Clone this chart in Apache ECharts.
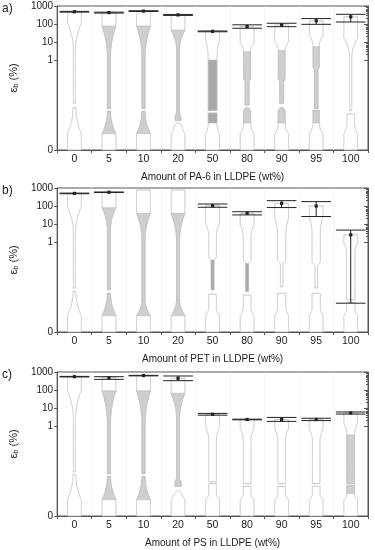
<!DOCTYPE html>
<html><head><meta charset="utf-8">
<script src="https://cdn.jsdelivr.net/npm/echarts@6/dist/echarts.min.js"></script>
<style>html,body{margin:0;padding:0;background:#fff}#c{width:375px;height:550px}</style>
</head><body><div id="c"></div>
<script>
// ---------- data ----------
const categories = ['0','5','10','20','50','80','90','95','100'];
const yTickValues = [1000, 100, 10, 1, 0];
const yTickLabels = ['1000','100','10','1','0'];
const xNames = ['Amount of PA-6 in LLDPE (wt%)','Amount of PET in LLDPE (wt%)','Amount of PS in LLDPE (wt%)'];
const panelLabels = ['a)','b)','c)'];

// elongation at break (%) : mean, lower and upper error limits
const meanA = [480, 430, 520, 320, 39, 72, 88, 150, 250];
const lowA  = [455, 405, 495, 300, 37, 58, 71, 96, 129];
const highA = [505, 455, 545, 340, 41, 90, 110, 200, 345];

const meanB = [500, 580, 780, 780, 104, 39, 140, 100, 2.5];
const lowB  = [480, 560, null, null, 85, 32, 82, 26, 0.32];
const highB = [520, 600, null, null, 129, 48, 198, 175, 4.6];

const meanC = [550, 480, 630, 450, 4.5, 2.3, 2.3, 2.3, 5.3];
const lowC  = [530, 390, 610, 330, 4.0, 2.2, 1.8, 2.0, 4.6];
const highC = [570, 550, 650, 600, 5.0, 2.4, 3.0, 2.7, 6.0];

// specimen outline levels (strain %), per category:
// [gripEnd, neckTop, neckW, narrowAt, narrowW, break, lowerTop, lowerW, lowerNeckEnd, shadeFrom, shadeLowTo, tone, dome]
const shapeA = [
  [110, 3.6, 0.15, null, null, 0.52, 0.47, 0.2, null, null, null, 1, 0],
  [77, 1.5, 0.22, null, null, 0.46, 0.43, 0.22, null, 77, 0.18, 1, 0],
  [77, 1.5, 0.22, null, null, 0.46, 0.43, 0.22, null, 77, 0.18, 1, 0],
  [46, 3.6, 0.2, 0.42, 0.4, 0.33, 0.30, 0.5, null, 46, null, 1, 1],
  [13, 1.0, 0.62, null, null, 0.44, 0.41, 0.62, 0.30, 1.0, 0.30, 2, 0],
  [8.5, 2.9, 0.48, 0.80, 0.28, 0.50, 0.47, 0.5, 0.30, 2.9, 0.30, 1, 1],
  [10.4, 3.3, 0.48, 0.80, 0.28, 0.52, 0.47, 0.5, 0.30, 3.3, 0.30, 1, 1],
  [24, 5.5, 0.45, 0.93, 0.25, 0.46, 0.44, 0.45, 0.30, 5.5, 0.30, 1, 0],
  [17, 1.3, 0.15, null, null, 0.44, 0.40, 0.55, 0.30, null, null, 1, 0]
];
const shapeB = [
  [91, 3.2, 0.15, null, null, 0.49, 0.45, 0.2, null, null, null, 1, 0],
  [80, 4.6, 0.22, null, null, 0.47, 0.43, 0.22, null, 80, 0.18, 1, 0],
  [39, 1.3, 0.22, null, null, 0.36, 0.36, 0.22, null, 39, 0.18, 1, 0],
  [39, 1.3, 0.22, null, null, 0.36, 0.36, 0.22, null, 39, 0.18, 1, 0],
  [11, 2.0, 0.55, 0.84, 0.2, 0.47, 0.42, 0.55, 0.28, 0.80, null, 2, 0],
  [8.8, 1.6, 0.55, 0.80, 0.2, 0.45, 0.41, 0.55, 0.28, 0.76, null, 2, 0],
  [21, 2.5, 0.6, 0.80, 0.18, 0.50, 0.43, 0.6, 0.28, null, null, 1, 0],
  [26, 3.0, 0.6, 0.78, 0.18, 0.49, 0.43, 0.6, 0.28, null, null, 1, 0],
  [0.99, 0.89, 0.62, null, null, 0.36, 0.33, 0.62, 0.26, null, null, 1, 0]
];
const shapeC = [
  [100, 2.2, 0.15, null, null, 0.49, 0.46, 0.2, null, null, null, 1, 0],
  [90, 1.4, 0.22, null, null, 0.47, 0.44, 0.22, null, 90, 0.18, 1, 0],
  [90, 1.4, 0.22, null, null, 0.47, 0.44, 0.22, null, 90, 0.18, 1, 0],
  [66, 2.5, 0.22, 0.42, 0.45, 0.33, 0.28, 0.5, null, 66, null, 1, 1],
  [0.99, 0.83, 0.55, null, null, 0.38, 0.36, 0.55, 0.25, null, null, 1, 0],
  [0.97, 0.83, 0.55, null, null, 0.36, 0.33, 0.55, 0.25, null, null, 1, 0],
  [0.97, 0.83, 0.55, null, null, 0.36, 0.33, 0.55, 0.25, null, null, 1, 0],
  [0.97, 0.83, 0.55, null, null, 0.36, 0.33, 0.55, 0.25, null, null, 1, 0],
  [1.4, 0.9, 0.55, null, null, 0.36, 0.34, 0.55, 0.25, 0.9, 0.25, 1, 0]
];

const panels = [
  {mean: meanA, low: lowA, high: highA, shape: shapeA},
  {mean: meanB, low: lowB, high: highB, shape: shapeB},
  {mean: meanC, low: lowC, high: highC, shape: shapeC}
];

// ---------- axis transform: log above 1 %, linear between 0 and 1 % ----------
const LIN_SPAN = 5; // decades' worth of height given to 0..1 %
function T(v) { return v >= 1 ? Math.log10(v) : -LIN_SPAN * (1 - v); }
const LOW_GRIP = 0.18;

const OUT = '#b9b9b9', SHADE = ['#cfcfcf', '#a9a9a9'], BAR = '#222';

function polyPts(cx, hw, t0, t1, wf, Yt) {
  const L = [], R = [];
  const n = Math.max(2, Math.ceil(Math.abs(t0 - t1) / 0.02));
  for (let k = 0; k <= n; k++) {
    const t = t0 - (t0 - t1) * k / n;
    const w = wf(t) * hw, y = Yt(t);
    L.push([cx - w, y]); R.push([cx + w, y]);
  }
  return L.concat(R.reverse());
}

function makeRender(P) {
  return function (params, api) {
    const i = api.value(0);
    const s = P.shape[i];
    const cx = api.coord([i, 0])[0];
    const band = api.size([1, 0])[0];
    const hw = band * 0.2;
    const Yt = t => api.coord([i, t])[1];
    const [grip, neck, nw, nar, narW, brk, low, lw, lowNeck, shUp, shLow, tone, dome] = s;
    const tTop = T(P.mean[i]);
    const tg = Math.min(T(grip), tTop), tn = T(neck);
    const ta = nar != null ? T(nar) : null;
    const TR = 0.25;
    const upW = t => {
      if (t >= tg) return 1;
      if (t >= tn) { const u = (tg - t) / (tg - tn); return nw + (1 - nw) * (1 - u) * (1 - u); }
      if (ta != null && t < ta) { const u = Math.min(1, (ta - t) / TR); return nw + (narW - nw) * u * u * (3 - 2 * u); }
      return nw;
    };
    const tl = T(low), tG = T(LOW_GRIP);
    const tln = lowNeck != null ? T(lowNeck) : tl;
    const loW = t => {
      let w;
      if (t <= tG) w = 1;
      else if (t <= tln) { const u = (tln - t) / (tln - tG); w = lw + (1 - lw) * u * u; }
      else w = lw;
      if (dome) { const d = (tl - t) / 0.22; if (d < 1) { const q = 1 - d; w = w * Math.max(0.12, Math.sqrt(Math.max(0, 1 - q * q))); } }
      return w;
    };
    const tB = T(brk);
    const children = [];
    const outline = { stroke: OUT, lineWidth: 0.8, fill: '#fff' };
    children.push({ type: 'polygon', shape: { points: polyPts(cx, hw, tTop, tB, upW, Yt) }, style: outline });
    children.push({ type: 'polygon', shape: { points: polyPts(cx, hw, tl, -LIN_SPAN, loW, Yt) }, style: outline });
    const sc = SHADE[tone - 1];
    if (shUp != null) {
      children.push({ type: 'polygon', shape: { points: polyPts(cx, hw, Math.min(T(shUp), tTop), tB, upW, Yt) },
        style: { fill: sc, stroke: OUT, lineWidth: 0.6 } });
    }
    if (shLow != null) {
      children.push({ type: 'polygon', shape: { points: polyPts(cx, hw, tl, T(shLow), loW, Yt) },
        style: { fill: sc, stroke: OUT, lineWidth: 0.6 } });
    }
    // error bar
    if (P.low[i] != null) {
      const yl = Yt(T(P.low[i])), yh = Yt(T(P.high[i])), ym = Yt(tTop);
      const cw = band * 0.43;
      children.push({ type: 'line', shape: { x1: cx, y1: yl, x2: cx, y2: yh }, style: { stroke: BAR, lineWidth: 1 } });
      children.push({ type: 'line', shape: { x1: cx - cw, y1: yl, x2: cx + cw, y2: yl }, style: { stroke: BAR, lineWidth: 1 } });
      children.push({ type: 'line', shape: { x1: cx - cw, y1: yh, x2: cx + cw, y2: yh }, style: { stroke: BAR, lineWidth: 1 } });
      children.push({ type: 'rect', shape: { x: cx - 1.6, y: ym - 1.6, width: 3.2, height: 3.2 }, style: { fill: BAR } });
    }
    return { type: 'group', children };
  };
}

// ---------- chart ----------
const tops = [6, 188, 372];
const AX = '#555';
const grid = [], xAxis = [], yAxis = [], series = [], graphic = [];
const majorT = yTickValues.map(T);
const minorT = [];
for (let d = 0; d < 3; d++) for (let k = 2; k <= 9; k++) minorT.push(Math.log10(k * Math.pow(10, d)));
const labelMap = {};
yTickValues.forEach((v, k) => { labelMap[T(v).toFixed(3)] = yTickLabels[k]; });

panels.forEach((P, p) => {
  grid.push({ left: 53, right: 7, top: tops[p], height: 144, show: true, borderColor: AX, borderWidth: 1 });
  xAxis.push({
    gridIndex: p, type: 'category', data: categories, boundaryGap: true, position: 'bottom',
    axisLine: { onZero: false, lineStyle: { color: AX } },
    axisTick: { show: true, length: 3, lineStyle: { color: AX } },
    axisLabel: { color: '#222', fontSize: 10.5, margin: 4, fontFamily: 'Liberation Sans, Arial' },
    splitLine: { show: true, lineStyle: { color: '#ececec', width: 0.6 } },
    name: xNames[p], nameLocation: 'middle', nameGap: 22,
    nameTextStyle: { color: '#222', fontSize: 10, fontFamily: 'Liberation Sans, Arial' }
  });
  yAxis.push({
    gridIndex: p, type: 'value', min: -LIN_SPAN, max: 3, interval: 1,
    axisLine: { show: true, onZero: false, lineStyle: { color: AX } },
    axisTick: { show: true, length: 3, customValues: majorT, lineStyle: { color: AX } },
    axisLabel: { customValues: majorT, color: '#222', fontSize: 10, margin: 4, fontFamily: 'Liberation Sans, Arial',
      formatter: v => labelMap[Number(v).toFixed(3)] || '' },
    splitLine: { show: false },
    name: '{e|ε}{s|b}{e| (%)}', nameLocation: 'middle', nameGap: 34, nameRotate: 90,
    nameTextStyle: { color: '#222', fontFamily: 'Liberation Sans, Arial',
      rich: { e: { fontSize: 11, color: '#222' }, s: { fontSize: 7.5, color: '#222', verticalAlign: 'bottom', padding: [5, 0, 0, 0] } } }
  });
  yAxis.push({
    gridIndex: p, type: 'value', position: 'right', min: -LIN_SPAN, max: 3, interval: 1,
    axisLine: { show: true, onZero: false, lineStyle: { color: AX } },
    axisTick: { show: true, inside: true, length: 4, customValues: [0, 1, 2, 3], lineStyle: { color: AX } },
    axisLabel: { show: false }, splitLine: { show: false }
  });
  yAxis.push({
    gridIndex: p, type: 'value', position: 'right', min: -LIN_SPAN, max: 3, interval: 1,
    axisLine: { show: false, onZero: false },
    axisTick: { show: true, inside: true, length: 2, customValues: minorT, lineStyle: { color: AX } },
    axisLabel: { show: false }, splitLine: { show: false }
  });
  series.push({
    type: 'custom', xAxisIndex: p, yAxisIndex: 3 * p, silent: true, clip: false,
    data: categories.map((c, i) => [i, 0]), encode: { x: 0, y: 1 },
    renderItem: makeRender(P)
  });
  graphic.push({ type: 'text', left: 2, top: tops[p] - 3,
    style: { text: panelLabels[p], fontSize: 12, fill: '#222', fontFamily: 'Liberation Sans, Arial' } });
});

const chart = echarts.init(document.getElementById('c'), null, { renderer: 'canvas' });
chart.setOption({ animation: false, backgroundColor: '#fff', grid, xAxis, yAxis, series, graphic });
</script></body></html>
